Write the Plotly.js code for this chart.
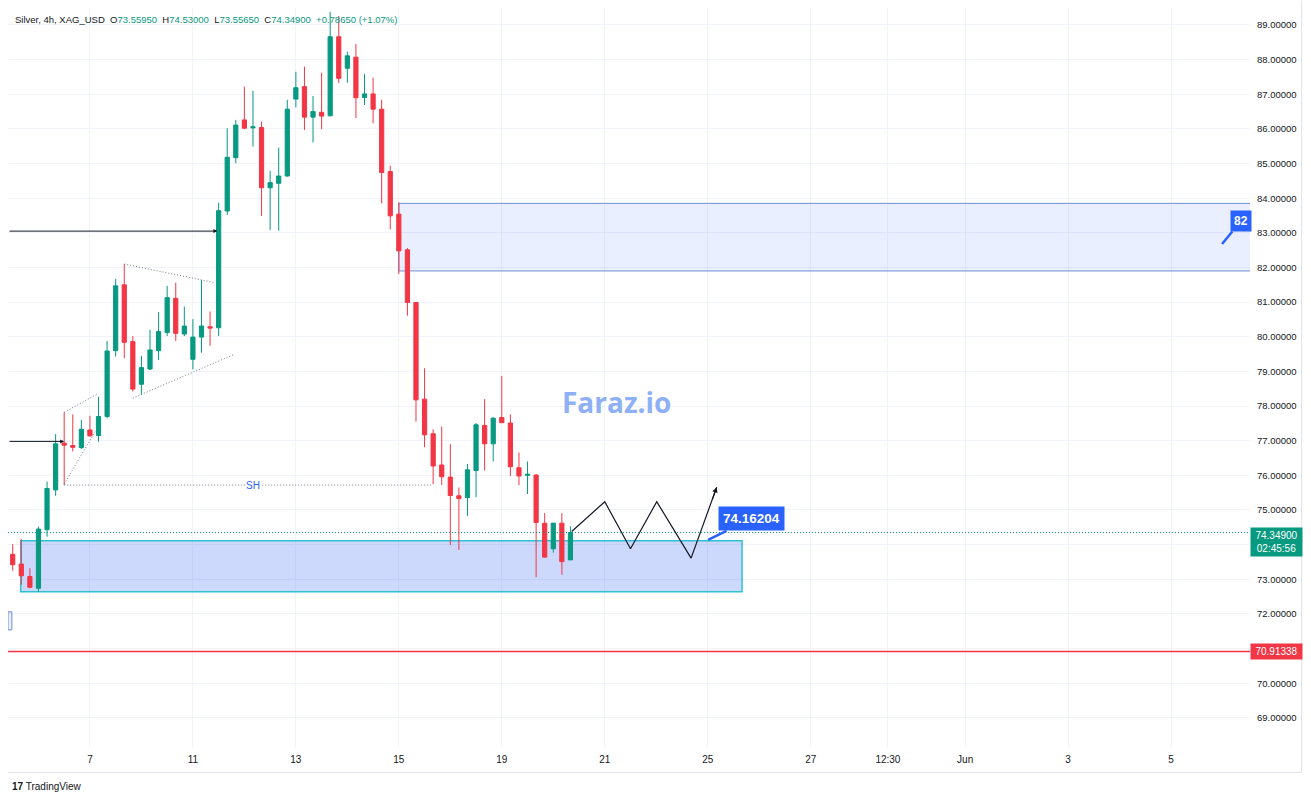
<!DOCTYPE html>
<html>
<head>
<meta charset="utf-8">
<script src="https://cdn.plot.ly/plotly-3.0.1.min.js"></script>
<style>html,body{margin:0;padding:0;background:#fff;}#chart{width:1311px;height:800px;}</style>
</head>
<body>
<div id="chart"></div>
<script>
// ---- Candle data (Silver, 4h, XAG_USD) ----
const open  = [73.72,73.44,73.08,72.74,74.43,75.58,76.93,76.86,76.80,77.31,77.15,77.70,79.60,81.50,79.86,78.63,79.07,79.60,80.12,81.11,80.08,79.35,79.99,80.29,80.26,83.63,85.17,86.26,86.03,86.04,84.30,84.43,84.64,86.86,87.22,86.34,86.48,86.38,88.66,87.75,88.07,86.91,87.01,86.57,84.77,83.54,82.51,80.99,78.20,77.20,76.30,75.95,75.41,75.36,76.14,77.44,76.91,77.67,77.51,76.22,76.00,76.01,74.62,73.88,74.62,73.5595];
const high  = [74.01,74.16,73.32,74.52,75.82,77.19,77.82,77.76,77.60,77.72,78.27,79.88,81.67,82.10,80.02,79.45,80.20,80.71,81.47,81.56,80.87,80.51,81.64,80.73,83.87,86.02,86.26,87.22,87.10,86.21,84.79,85.46,86.84,87.65,87.80,86.95,87.62,89.38,89.26,88.23,88.45,87.58,87.48,86.84,84.94,83.88,82.56,81.00,79.09,77.33,77.41,76.90,75.65,76.33,77.51,78.20,77.68,78.87,77.76,76.66,76.40,76.03,74.91,74.63,74.91,74.53];
const low   = [73.25,72.84,72.74,72.64,74.23,75.41,75.72,76.69,76.76,77.12,76.97,77.65,79.43,79.38,78.42,78.32,79.04,79.33,80.02,79.88,80.02,79.06,79.54,79.74,80.02,83.52,85.01,85.99,85.49,83.49,83.08,83.06,84.62,86.62,85.97,85.61,85.99,86.36,87.32,87.33,86.31,86.69,86.16,83.85,83.10,81.81,80.61,77.55,76.81,75.75,75.72,73.99,73.85,74.83,75.37,76.14,76.40,77.51,75.98,75.72,75.46,73.06,73.62,73.77,73.13,73.5565];
const close = [73.42,73.10,72.77,74.45,75.62,76.91,76.87,76.81,77.33,77.14,77.70,79.59,81.47,79.84,78.49,79.11,79.62,80.15,81.13,80.10,80.31,79.99,80.31,80.25,83.64,85.18,86.11,86.02,86.06,84.30,84.45,84.64,86.57,87.19,86.34,86.50,86.37,88.66,87.46,88.11,86.90,87.01,86.57,84.74,83.49,82.48,80.99,78.18,77.17,76.27,75.96,75.42,75.33,76.16,77.46,76.91,77.65,77.52,76.25,75.98,76.03,74.64,73.64,74.62,73.51,74.349];

// time axis (bar-index positions of the labels)
const tickPos  = [9, 21, 33, 45, 57, 69, 81, 93, 102, 111, 123, 135];
const tickText = ['7','11','13','15','19','21','25','27','12:30','Jun','3','5'];

// price axis
const priceTicks  = [69,70,71,72,73,74,75,76,77,78,79,80,81,82,83,84,85,86,87,88,89];
const priceLabels = ['69.00000','70.00000','','72.00000','73.00000','','75.00000','76.00000','77.00000','78.00000','79.00000','80.00000','81.00000','82.00000','83.00000','84.00000','85.00000','86.00000','87.00000','88.00000','89.00000'];

// price levels
const lastPrice = 74.349;
const countdown = '02:45:56';
const stopLevel = 70.91338;
const targetLabel = 74.16204;

// drawing objects (bar index, price)
const supplyZone = {x0:45.0, x1:150, y0:81.90, y1:83.85};
const demandZone = {x0:0.93, x1:85.0, y0:72.64, y1:74.11};
const projX = [65.15, 69.0, 72.0, 75.06, 79.06, 82.05];
const projY = [74.38, 75.24, 73.88, 75.24, 73.61, 75.66];
const shLevel = 75.72;

const barIndex = open.map((_, i) => i);
const GREEN = '#089981', RED = '#f23645', BLUE = '#2962ff';
const FONT = 'Liberation Sans, Arial, sans-serif';

const candles = {
  type:'candlestick', x:barIndex, open:open, high:high, low:low, close:close,
  increasing:{line:{color:GREEN, width:1}, fillcolor:GREEN},
  decreasing:{line:{color:RED, width:1}, fillcolor:RED},
  whiskerwidth:0, hoverinfo:'skip', showlegend:false
};
const projection = {
  type:'scatter', mode:'lines', x:projX, y:projY,
  line:{color:'#131722', width:1.2}, hoverinfo:'skip', showlegend:false
};

const dotGrey = {color:'#787b86', width:1, dash:'1px,2px'};
const shapes = [
  {type:'rect', xref:'x', yref:'y', x0:supplyZone.x0, x1:supplyZone.x1, y0:supplyZone.y0, y1:supplyZone.y1,
   fillcolor:'rgba(41,98,255,0.10)', line:{color:'#6f8fd0', width:1}, layer:'between'},
  {type:'rect', xref:'x', yref:'y', x0:demandZone.x0, x1:demandZone.x1, y0:demandZone.y0, y1:demandZone.y1,
   fillcolor:'rgba(60,110,245,0.26)', line:{color:'#2ec1d6', width:1.5}, layer:'between'},
  {type:'rect', xref:'x', yref:'y', x0:-0.55, x1:-0.1, y0:71.54, y1:72.06,
   fillcolor:'rgba(41,98,255,0.10)', line:{color:'#6f8fd0', width:1}, layer:'between'},
  // stop line
  {type:'line', xref:'paper', yref:'y', x0:0, x1:1, y0:stopLevel, y1:stopLevel, line:{color:RED, width:1.5}},
  // last price dotted
  {type:'line', xref:'paper', yref:'y', x0:0, x1:1, y0:lastPrice, y1:lastPrice, line:{color:GREEN, width:1, dash:'1px,2px'}},
  // SH line
  {type:'line', xref:'x', yref:'y', x0:6, x1:49, y0:shLevel, y1:shLevel, line:dotGrey},
  // pennant 1
  {type:'line', xref:'x', yref:'y', x0:6, x1:9.86, y0:77.82, y1:78.35, line:dotGrey},
  {type:'line', xref:'x', yref:'y', x0:6, x1:9.6, y0:75.75, y1:77.26, line:dotGrey},
  // pennant 2
  {type:'line', xref:'x', yref:'y', x0:13, x1:23.58, y0:82.10, y1:81.56, line:dotGrey},
  {type:'line', xref:'x', yref:'y', x0:14, x1:25.9, y0:78.23, y1:79.50, line:dotGrey},
  // right border & time-axis border
  {type:'line', xref:'paper', yref:'paper', x0:1.0415, x1:1.0415, y0:-0.033, y1:1.01, line:{color:'#e0e3eb', width:1}},
  {type:'line', xref:'paper', yref:'paper', x0:0, x1:1.0415, y0:-0.033, y1:-0.033, line:{color:'#e0e3eb', width:1}}
];

const lab = s => '<span style="color:#131722">' + s + '</span>';
const hdr = lab('Silver, 4h, XAG_USD') + '  ' + lab('O') + '73.55950  ' + lab('H') + '74.53000  ' +
  lab('L') + '73.55650  ' + lab('C') + '74.34900  +0.78650 (+1.07%)';

const annotations = [
  {xref:'paper', yref:'paper', x:0, y:1, xanchor:'left', yanchor:'middle', xshift:5, yshift:-11,
   text:hdr, showarrow:false, font:{family:FONT, size:9.5, color:GREEN}},
  // arrows
  {xref:'x', yref:'y', axref:'x', ayref:'y', x:23.85, y:83.05, ax:-0.55, ay:83.05, text:'',
   showarrow:true, arrowhead:2, arrowsize:0.8, arrowwidth:1, arrowcolor:'#131722'},
  {xref:'x', yref:'y', axref:'x', ayref:'y', x:6.0, y:76.98, ax:-0.55, ay:76.98, text:'',
   showarrow:true, arrowhead:2, arrowsize:0.8, arrowwidth:1, arrowcolor:'#131722'},
  // projection arrowhead
  {xref:'x', yref:'y', x:projX[5], y:projY[5], ax:-5, ay:14, text:'', showarrow:true,
   arrowhead:2, arrowsize:0.9, arrowwidth:1.2, arrowcolor:'#131722'},
  // SH label
  {xref:'x', yref:'y', x:28, y:shLevel, text:'SH', showarrow:false, bgcolor:'#ffffff',
   font:{family:FONT, size:10, color:BLUE}, borderpad:0},
  // watermark
  {xref:'x', yref:'y', x:70.4, y:78.12, text:'<b>Faraz.io</b>', showarrow:false,
   font:{family:'Open Sans, Roboto, sans-serif', size:28, color:'#8fb0f6'}},
  // callout 74.16204
  {xref:'x', yref:'y', x:81.04, y:74.14, ax:43, ay:-21, text:'<b>'+targetLabel.toFixed(5)+'</b>',
   showarrow:true, arrowhead:0, arrowwidth:2.5, arrowcolor:BLUE, bgcolor:BLUE, borderpad:4,
   font:{family:FONT, size:13.5, color:'#ffffff'}},
  // callout 82 (clipped at pane edge)
  {xref:'x', yref:'y', x:140.94, y:82.68, ax:19, ay:-23, text:'<b>82</b>',
   showarrow:true, arrowhead:0, arrowwidth:2.5, arrowcolor:BLUE, bgcolor:BLUE, borderpad:3,
   font:{family:FONT, size:12, color:'#ffffff'}},
  // price labels on axis
  {xref:'paper', yref:'y', x:1, y:lastPrice, xanchor:'left', yanchor:'top', yshift:6,
   text:lastPrice.toFixed(5)+'<br>'+countdown, showarrow:false, bgcolor:GREEN, borderpad:2, width:47, align:'center',
   font:{family:FONT, size:10, color:'#ffffff'}},
  {xref:'paper', yref:'y', x:1, y:stopLevel, xanchor:'left', yanchor:'middle',
   text:stopLevel.toFixed(5), showarrow:false, bgcolor:RED, borderpad:2, width:47, align:'center',
   font:{family:FONT, size:10, color:'#ffffff'}},
  // TradingView logo
  {xref:'paper', yref:'paper', x:0, y:0, xanchor:'left', yanchor:'middle', xshift:2, yshift:-38,
   text:'<b>17</b> TradingView', showarrow:false, font:{family:FONT, size:10, color:'#131722'}}
];

const layout = {
  width:1311, height:800,
  margin:{l:8, r:61, t:8, b:52},
  paper_bgcolor:'#ffffff', plot_bgcolor:'#ffffff',
  showlegend:false, hovermode:false,
  xaxis:{range:[-0.55, 144.2], tickmode:'array', tickvals:tickPos, ticktext:tickText,
    showgrid:true, gridcolor:'#f0f3fa', zeroline:false, showline:false, ticks:'',
    rangeslider:{visible:false}, tickfont:{family:FONT, size:10, color:'#131722'},
    ticklabelstandoff:4, fixedrange:true},
  yaxis:{side:'right', range:[68.13, 89.49], tickmode:'array', tickvals:priceTicks, ticktext:priceLabels,
    showgrid:true, gridcolor:'#f0f3fa', zeroline:false, showline:false, ticks:'',
    tickfont:{family:FONT, size:9.5, color:'#131722'}, ticklabelstandoff:6, fixedrange:true},
  shapes:shapes, annotations:annotations
};

Plotly.newPlot('chart', [candles, projection], layout, {displayModeBar:false, staticPlot:true});
</script>
</body>
</html>
